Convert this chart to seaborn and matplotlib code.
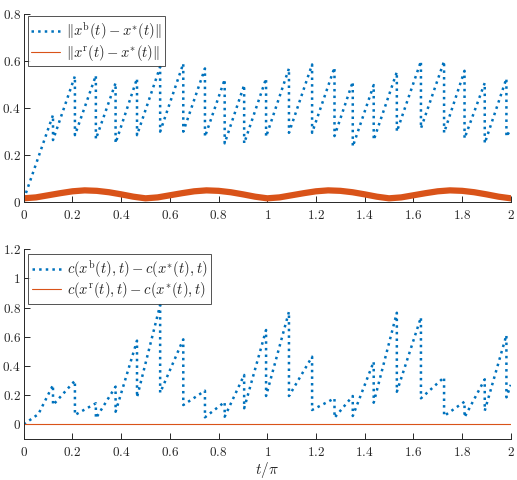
import numpy as np
import pandas as pd
import matplotlib
matplotlib.use("Agg")
import matplotlib.pyplot as plt
import seaborn as sns

# ---------------- data ----------------
switch_t = [0.12, 0.21, 0.296, 0.377, 0.465, 0.56, 0.655, 0.744, 0.825, 0.905, 0.995,
            1.089, 1.184, 1.276, 1.351, 1.437, 1.532, 1.631, 1.726, 1.81, 1.893, 1.982]
# top panel: ||x^b(t) - x*(t)||
top_start = 0.01
top_peak = [0.37, 0.536, 0.539, 0.507, 0.526, 0.576, 0.59, 0.569, 0.522, 0.498, 0.526,
            0.569, 0.586, 0.573, 0.512, 0.498, 0.554, 0.60, 0.60, 0.559, 0.507, 0.526]
top_trough = [0.263, 0.284, 0.267, 0.25, 0.284, 0.299, 0.299, 0.277, 0.249, 0.249, 0.277,
              0.294, 0.294, 0.28, 0.235, 0.263, 0.299, 0.313, 0.294, 0.27, 0.249, 0.277]
top_end = 0.31
# top panel: ||x^r(t) - x*(t)||
t_r = [0.0, 0.05, 0.1, 0.15, 0.2, 0.25, 0.3, 0.35, 0.4, 0.45, 0.5,
       0.55, 0.6, 0.65, 0.7, 0.75, 0.8, 0.85, 0.9, 0.95, 1.0,
       1.05, 1.1, 1.15, 1.2, 1.25, 1.3, 1.35, 1.4, 1.45, 1.5,
       1.55, 1.6, 1.65, 1.7, 1.75, 1.8, 1.85, 1.9, 1.95, 2.0]
xr_err = [0.014, 0.018, 0.027, 0.036, 0.044, 0.048, 0.046, 0.040, 0.031, 0.021, 0.014,
          0.018, 0.027, 0.036, 0.044, 0.048, 0.046, 0.040, 0.031, 0.021, 0.014,
          0.018, 0.027, 0.036, 0.044, 0.048, 0.046, 0.040, 0.031, 0.021, 0.014,
          0.018, 0.027, 0.036, 0.044, 0.048, 0.046, 0.040, 0.031, 0.021, 0.014]
# bottom panel: c(x^b(t),t) - c(x*(t),t)
bot_start = 0.0
bot_first_mid = (0.06, 0.07)
bot_peak = [0.269, 0.299, 0.144, 0.258, 0.573, 0.817, 0.582, 0.23, 0.153, 0.338, 0.646,
            0.771, 0.463, 0.178, 0.194, 0.429, 0.764, 0.733, 0.322, 0.155, 0.308, 0.611]
bot_trough = [0.132, 0.064, 0.041, 0.086, 0.185, 0.216, 0.132, 0.048, 0.052, 0.11, 0.194,
              0.194, 0.098, 0.045, 0.057, 0.148, 0.223, 0.178, 0.057, 0.048, 0.093, 0.185]
bot_end = 0.27
# bottom panel: c(x^r(t),t) - c(x*(t),t)
t_cr = [0.0, 2.0]
cr_err = [0.0, 0.0]

xticks = [0, 0.2, 0.4, 0.6, 0.8, 1, 1.2, 1.4, 1.6, 1.8, 2]
xtick_labels = ["0", "0.2", "0.4", "0.6", "0.8", "1", "1.2", "1.4", "1.6", "1.8", "2"]
top_yticks = [0, 0.2, 0.4, 0.6, 0.8]
top_ytick_labels = ["0", "0.2", "0.4", "0.6", "0.8"]
bot_yticks = [0, 0.2, 0.4, 0.6, 0.8, 1, 1.2]
bot_ytick_labels = ["0", "0.2", "0.4", "0.6", "0.8", "1", "1.2"]

labels_top = [r"$\|x^{\mathrm{b}}(t)-x^{*}(t)\|$", r"$\|x^{\mathrm{r}}(t)-x^{*}(t)\|$"]
labels_bot = [r"$c(x^{\mathrm{b}}(t),t)-c(x^{*}(t),t)$", r"$c(x^{\mathrm{r}}(t),t)-c(x^{*}(t),t)$"]
xlabel = r"$t/\pi$"


def sawtooth(start, peaks, troughs, end, mid=None):
    t = [0.0]
    y = [start]
    if mid is not None:
        t.append(mid[0])
        y.append(mid[1])
    for s, p, q in zip(switch_t, peaks, troughs):
        t += [s, s]
        y += [p, q]
    t.append(2.0)
    y.append(end)
    return pd.DataFrame({"t": t, "y": y})


df_top_b = sawtooth(top_start, top_peak, top_trough, top_end)
df_top_r = pd.DataFrame({"t": t_r, "y": xr_err})
df_bot_b = sawtooth(bot_start, bot_peak, bot_trough, bot_end, bot_first_mid)
df_bot_r = pd.DataFrame({"t": t_cr, "y": cr_err})

# ---------------- style ----------------
sns.set_style("ticks")
plt.rcParams["font.family"] = ["DejaVu Serif"]
plt.rcParams["mathtext.fontset"] = "cm"
plt.rcParams["xtick.direction"] = "in"
plt.rcParams["ytick.direction"] = "in"

BLUE = "#0072BD"
ORANGE = "#D95319"
AX = "#262626"

fig = plt.figure(figsize=(5.17, 4.8), dpi=100)
ax1 = fig.add_axes([0.046, 0.580, 0.942, 0.390])
ax2 = fig.add_axes([0.046, 0.0856, 0.942, 0.3954])

sns.lineplot(data=df_top_b, x="t", y="y", ax=ax1, sort=False, estimator=None,
             color=BLUE, linewidth=1.8, linestyle=":", label=labels_top[0])
sns.lineplot(data=df_top_r, x="t", y="y", ax=ax1, sort=False, estimator=None,
             color=ORANGE, linewidth=4.5, label=labels_top[1])
sns.lineplot(data=df_bot_b, x="t", y="y", ax=ax2, sort=False, estimator=None,
             color=BLUE, linewidth=1.8, linestyle=":", label=labels_bot[0])
sns.lineplot(data=df_bot_r, x="t", y="y", ax=ax2, sort=False, estimator=None,
             color=ORANGE, linewidth=0.8, label=labels_bot[1])

for ax, yt, ytl, ylim in [(ax1, top_yticks, top_ytick_labels, (0, 0.8)),
                           (ax2, bot_yticks, bot_ytick_labels, (-0.1, 1.2))]:
    ax.set_xlim(0, 2)
    ax.set_ylim(*ylim)
    ax.set_xticks(xticks)
    ax.set_xticklabels(["$" + s + "$" for s in xtick_labels])
    ax.set_yticks(yt)
    ax.set_yticklabels(["$" + s + "$" for s in ytl])
    ax.set_xlabel("")
    ax.set_ylabel("")
    sns.despine(ax=ax)
    for sp in ("left", "bottom"):
        ax.spines[sp].set_color(AX)
        ax.spines[sp].set_linewidth(0.7)
    ax.tick_params(axis="both", colors=AX, labelsize=9.5, length=4, width=0.7)
    ax.tick_params(axis="y", pad=2)
    ax.tick_params(axis="x", pad=5)

ax2.set_xlabel(xlabel, fontsize=11, color=AX, labelpad=1)

# legends
leg_kw = dict(loc="upper left", borderaxespad=0, fontsize=10.5, frameon=True,
              fancybox=False, handlelength=2.0, handletextpad=0.4,
              borderpad=0.25, labelspacing=0.05)

h1, _ = ax1.get_legend_handles_labels()
leg1 = ax1.legend(h1, labels_top, bbox_to_anchor=(0.008, 0.99), **leg_kw)
leg1.get_frame().set_edgecolor(AX)
leg1.get_frame().set_linewidth(0.7)
leg1.get_lines()[1].set_linewidth(0.8)

h2, _ = ax2.get_legend_handles_labels()
leg2 = ax2.legend(h2, labels_bot, bbox_to_anchor=(0.009, 0.974), **leg_kw)
leg2.get_frame().set_edgecolor(AX)
leg2.get_frame().set_linewidth(0.7)

fig.savefig("out.png", dpi=100)
